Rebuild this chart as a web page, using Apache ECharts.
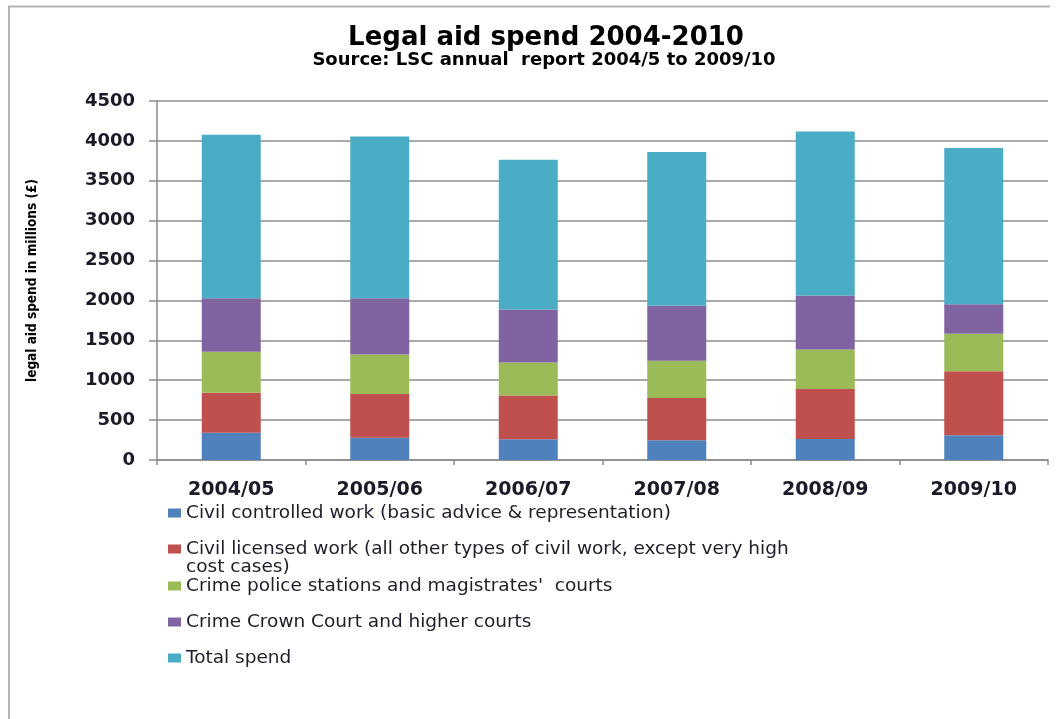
<!DOCTYPE html>
<html>
<head>
<meta charset="utf-8">
<title>Legal aid spend 2004-2010</title>
<script src="https://cdn.jsdelivr.net/npm/echarts@6/dist/echarts.min.js"></script>
<style>
  html, body { margin: 0; padding: 0; background: #ffffff; }
  #chart { width: 1059px; height: 719px; }
</style>
</head>
<body>
<div id="chart"></div>
<script>
// Financial years on the x axis
const years = ['2004/05', '2005/06', '2006/07', '2007/08', '2008/09', '2009/10'];

// Spend per category, £ millions
const civilControlled = [342, 280, 259, 246, 263, 309];
const civilLicensed   = [501, 546, 551, 530, 626, 805];
const crimePolice     = [513, 497, 413, 467, 497, 467];
const crimeCrown      = [672, 705, 664, 689, 676, 372];
const totalSpend      = [2050, 2028, 1878, 1928, 2057, 1957];

const seriesNames = [
  'Civil controlled work (basic advice & representation)',
  'Civil licensed work (all other types of civil work, except very high cost cases)',
  "Crime police stations and magistrates'  courts",
  'Crime Crown Court and higher courts',
  'Total spend'
];
const seriesData = [civilControlled, civilLicensed, crimePolice, crimeCrown, totalSpend];
const seriesColors = ['#4F81BD', '#C0504D', '#9BBB59', '#8064A2', '#4BACC6'];

// The long legend entry wraps onto a second line
const wrappedFirstLine = 'Civil licensed work (all other types of civil work, except very high';
const wrappedSecondLine = 'cost cases)';

// Legend rows: text centre y for each entry
const legendRowY = [513, 549, 586, 622, 658];
const legendFont = { fontFamily: 'DejaVu Sans', fontSize: 18.5, color: '#1e1e2a', lineHeight: 20 };
const legendLeft = 168;
const legendIconW = 13;

const legends = seriesNames.map(function (name, i) {
  return {
    orient: 'vertical',
    left: legendLeft,
    top: legendRowY[i] - 10,
    padding: 0,
    itemWidth: legendIconW,
    itemHeight: 9,
    icon: 'rect',
    data: [name],
    selectedMode: false,
    formatter: function (n) { return n === seriesNames[1] ? wrappedFirstLine : n; },
    textStyle: legendFont
  };
});

const chart = echarts.init(document.getElementById('chart'), null, { renderer: 'canvas' });

chart.setOption({
  animation: false,
  backgroundColor: '#ffffff',
  title: [
    {
      text: 'Legal aid spend 2004-2010',
      left: 541,
      top: 20,
      textAlign: 'center',
      textStyle: { fontFamily: 'DejaVu Sans', fontWeight: 'bold', fontSize: 26, color: '#000000' }
    },
    {
      text: 'Source: LSC annual  report 2004/5 to 2009/10',
      left: 539,
      top: 46,
      textAlign: 'center',
      textStyle: { fontFamily: 'DejaVu Sans', fontWeight: 'bold', fontSize: 18, color: '#000000' }
    }
  ],
  legend: legends,
  grid: { left: 157, right: 11, top: 101, bottom: 259, containLabel: false },
  xAxis: {
    type: 'category',
    data: years,
    axisLine: { lineStyle: { color: '#8c8c8c', width: 1.5 } },
    axisTick: { show: true, length: 5, lineStyle: { color: '#8c8c8c', width: 1.5 } },
    axisLabel: {
      margin: 21,
      fontFamily: 'DejaVu Sans',
      fontWeight: 'bold',
      fontSize: 19,
      color: '#1a1a28'
    }
  },
  yAxis: {
    type: 'value',
    min: 0,
    max: 4500,
    interval: 500,
    name: 'legal aid spend in millions (£)',
    nameLocation: 'middle',
    nameRotate: 90,
    nameGap: 118,
    nameTextStyle: {
      fontFamily: "'DejaVu Sans Condensed', 'Liberation Sans', sans-serif",
      fontWeight: 'bold',
      fontSize: 13.5,
      color: '#000000'
    },
    axisLine: { show: true, lineStyle: { color: '#8c8c8c', width: 1.5 } },
    axisTick: { show: true, length: 8, lineStyle: { color: '#8c8c8c', width: 1.5 } },
    axisLabel: {
      margin: 22,
      fontFamily: 'DejaVu Sans',
      fontWeight: 'bold',
      fontSize: 18,
      color: '#1a1a28',
      formatter: function (v) { return String(v); }
    },
    splitLine: { show: true, lineStyle: { color: '#8c8c8c', width: 1.5 } }
  },
  series: seriesNames.map(function (name, i) {
    return {
      name: name,
      type: 'bar',
      stack: 'spend',
      barWidth: 59,
      data: seriesData[i],
      itemStyle: { color: seriesColors[i] }
    };
  }),
  graphic: [
    {
      type: 'polyline',
      silent: true,
      shape: { points: [[9, 719], [9, 6.5], [1050, 6.5]] },
      style: { stroke: '#b4b4b4', lineWidth: 2, fill: null }
    },
    {
      type: 'text',
      silent: true,
      left: legendLeft + legendIconW + 5,
      top: legendRowY[1] + 9,
      style: {
        text: wrappedSecondLine,
        fontFamily: legendFont.fontFamily,
        fontSize: legendFont.fontSize,
        fill: legendFont.color
      }
    }
  ]
});
</script>
</body>
</html>
